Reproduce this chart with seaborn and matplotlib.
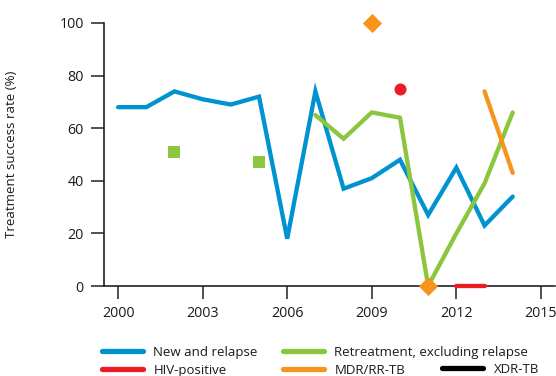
import numpy as np
import pandas as pd
import matplotlib
matplotlib.use("Agg")
import matplotlib.pyplot as plt
from matplotlib.lines import Line2D
import seaborn as sns

years = list(range(2000, 2015))
nan = np.nan

new_relapse = [68, 68, 74, 71, 69, 72, 18, 74, 37, 41, 48, 27, 45, 23, 34]
retreatment = [nan, nan, 51, nan, nan, 47, nan, 65, 56, 66, 64, 0, 20, 39, 66]
hiv_positive = [nan, nan, nan, nan, nan, nan, nan, nan, nan, nan, 75, nan, 0, 0, nan]
mdr_rr_tb = [nan, nan, nan, nan, nan, nan, nan, nan, nan, 100, nan, 0, nan, 74, 43]
xdr_tb = [nan] * 15

series_names = ["New and relapse", "Retreatment, excluding relapse",
                "HIV-positive", "MDR/RR-TB", "XDR-TB"]
series_values = [new_relapse, retreatment, hiv_positive, mdr_rr_tb, xdr_tb]
series_colors = ["#0093D0", "#8CC63F", "#EC1C24", "#F7941D", "#000000"]
series_markers = ["s", "s", "o", "D", "s"]
marker_sizes = [80, 80, 75, 95, 80]

x_ticks = [2000, 2003, 2006, 2009, 2012, 2015]
y_ticks = [0, 20, 40, 60, 80, 100]

sns.set_theme(style="ticks")
plt.rcParams["font.family"] = ["Open Sans", "DejaVu Sans"]

W, H = 556, 376
fig = plt.figure(figsize=(W / 100, H / 100), dpi=100)
ax = fig.add_axes([104 / W, 1 - 286 / H, 451 / W, 263 / H])


def runs(yrs, vals):
    """Split a series into contiguous runs of non-missing values."""
    out, cur = [], []
    for yr, v in zip(yrs, vals):
        if np.isnan(v):
            if cur:
                out.append(cur)
            cur = []
        else:
            cur.append((yr, v))
    if cur:
        out.append(cur)
    return out


for name, vals, col, mk, ms in zip(series_names, series_values, series_colors,
                                   series_markers, marker_sizes):
    for seg in runs(years, vals):
        df = pd.DataFrame(seg, columns=["year", "value"])
        if len(df) == 1:
            sns.scatterplot(data=df, x="year", y="value", ax=ax, color=col,
                            marker=mk, s=ms, linewidth=0, clip_on=False,
                            zorder=4)
        else:
            sns.lineplot(data=df, x="year", y="value", ax=ax, color=col,
                         linewidth=3.1, clip_on=False, zorder=3,
                         solid_capstyle="round", solid_joinstyle="miter")

ax.set_xlim(1999.5, 2015.5)
ax.set_ylim(0, 100)
ax.set_xticks(x_ticks)
ax.set_yticks(y_ticks)
ax.set_xlabel("")
ax.set_ylabel("Treatment success rate (%)", fontsize=9.5, color="#1a1a1a")
ax.yaxis.set_label_coords((18 - 104) / 451, 0.5)
ax.tick_params(axis="both", length=9.5, width=1.1, color="#222222",
               labelsize=10.3, labelcolor="#1a1a1a", pad=5)
for side in ["left", "bottom"]:
    ax.spines[side].set_linewidth(1.2)
    ax.spines[side].set_color("#222222")
sns.despine(ax=ax)

handles = {n: Line2D([], [], color=c, linewidth=3.8, solid_capstyle="round")
           for n, c in zip(series_names, series_colors)}

# legend columns: (left x in px, top y in px, entries)
legend_cols = [
    (102, 346, ["New and relapse", "HIV-positive"]),
    (283, 346, ["Retreatment, excluding relapse", "MDR/RR-TB"]),
    (442, 363, ["XDR-TB"]),
]
for x0, y0, names in legend_cols:
    leg = fig.legend([handles[n] for n in names], names, loc="upper left",
                     bbox_to_anchor=(x0 / W, 1 - y0 / H),
                     bbox_transform=fig.transFigure, frameon=False,
                     fontsize=9.5, handlelength=3.1, handletextpad=0.8,
                     labelspacing=0.37, borderpad=0, borderaxespad=0)
    for t in leg.get_texts():
        t.set_color("#1a1a1a")

fig.savefig("out.png", dpi=100)
